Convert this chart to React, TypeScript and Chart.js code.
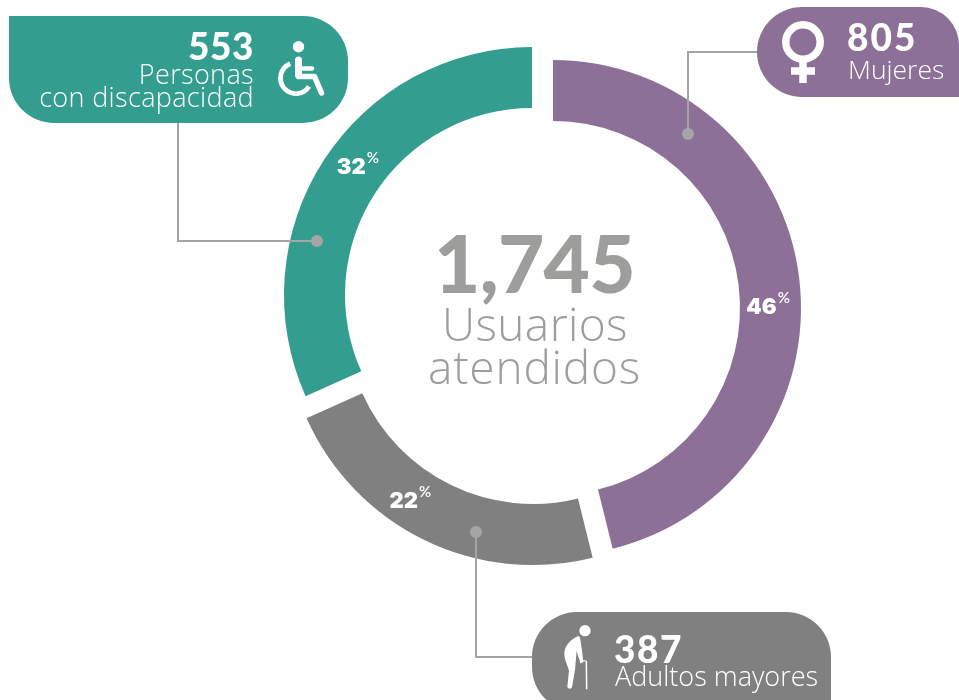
import React, { useEffect, useRef } from "react";
import { Chart, registerables } from "chart.js";

Chart.register(...registerables);

const categories = ["Mujeres", "Adultos mayores", "Personas con discapacidad"];
const values = [805, 387, 553];
const colors = ["#8c7097", "#808080", "#339d8f"];
const totalLabel = "1,745";
const arcShifts = [[12, 2], [-8, 11], [-9, -11]];
const labelAngles = [89.5, 214, 306.5];
const labelRadialNudge = [-3, 3, 0];

const FONT = "Lato, sans-serif";
const LIGHT = "'Open Sans', sans-serif";
const LINE = "#a5a5a5";

const arcPlugin = {
  id: "arcPlugin",
  afterDatasetsUpdate(chart: any) {
    chart.getDatasetMeta(0).data.forEach((el: any, i: number) => {
      el.x += arcShifts[i][0];
      el.y += arcShifts[i][1];
    });
  },
  afterDatasetsDraw(chart: any) {
    const { ctx } = chart;
    const total = values.reduce((a, b) => a + b, 0);
    chart.getDatasetMeta(0).data.forEach((el: any, i: number) => {
      const r = (el.innerRadius + el.outerRadius) / 2 + labelRadialNudge[i];
      const a = (labelAngles[i] * Math.PI) / 180;
      const cx = el.x + r * Math.sin(a);
      const cy = el.y - r * Math.cos(a);
      const txt = String(Math.round((values[i] / total) * 100));
      ctx.save();
      ctx.fillStyle = "#ffffff";
      ctx.textBaseline = "alphabetic";
      ctx.textAlign = "left";
      ctx.font = `900 22px Inter, ${FONT}`;
      const w = ctx.measureText(txt).width;
      ctx.fillText(txt, cx - w / 2 - 6, cy + 8);
      ctx.font = `600 15px Lato, sans-serif`;
      ctx.fillText("%", cx + w / 2 - 5, cy - 3);
      ctx.restore();
    });
  },
};

const T = ({ x, y, size, weight, color = "#fff", right, spacing, family = FONT, children }: any) => (
  <div
    style={{
      position: "absolute",
      top: y - size,
      height: size * 1.2,
      lineHeight: `${size * 1.2}px`,
      ...(right !== undefined ? { right: 959 - right } : { left: x }),
      fontFamily: family,
      fontSize: size,
      fontWeight: weight,
      color,
      whiteSpace: "nowrap",
      letterSpacing: spacing,
    }}
  >
    {children}
  </div>
);

const Pill = ({ x, y, w, h, radius, color }: any) => (
  <div style={{ position: "absolute", left: x, top: y, width: w, height: h, borderRadius: radius, background: color }} />
);

export default function App() {
  const ref = useRef<HTMLCanvasElement>(null);
  useEffect(() => {
    const chart = new Chart(ref.current as HTMLCanvasElement, {
      type: "doughnut",
      data: {
        labels: categories,
        datasets: [{ data: values, backgroundColor: colors, borderWidth: 0, hoverOffset: 0 }],
      },
      options: {
        responsive: false,
        animation: false,
        cutout: 187,
        layout: { padding: { left: 293, right: 170, top: 58, bottom: 146 } },
        plugins: { legend: { display: false }, tooltip: { enabled: false } },
      },
      plugins: [arcPlugin],
    } as any);
    return () => chart.destroy();
  }, []);

  return (
    <div style={{ position: "absolute", left: 0, top: 0, width: 959, height: 700, overflow: "hidden", background: "#fff" }}>
      <canvas ref={ref} width={959} height={700} style={{ position: "absolute", left: 0, top: 0, display: "block" }} />

      <Pill x={9} y={16} w={339} h={107} radius="0 45px 45px 45px" color={colors[2]} />
      <Pill x={757} y={7} w={202} h={90} radius="45px 38px 0 45px" color={colors[0]} />
      <Pill x={532} y={612} w={299} h={100} radius="45px 45px 0 45px" color={colors[1]} />

      <svg width={959} height={700} style={{ position: "absolute", left: 0, top: 0 }}>
        <g fill="none" stroke={LINE} strokeWidth={2}>
          <path d="M178 123V241H317" />
          <path d="M757 52H688V134" />
          <path d="M476 532V657H532" />
        </g>
        <g fill={LINE}>
          <circle cx={317} cy={241} r={6} />
          <circle cx={688} cy={134} r={6} />
          <circle cx={476} cy={532} r={6} />
        </g>
        {/* wheelchair */}
        <g fill="none" stroke="#fff" strokeLinejoin="round" strokeLinecap="round">
          <circle cx={298.5} cy={46.8} r={5.7} fill="#fff" stroke="none" />
          <path d="M298.5 60V75" strokeWidth={7} />
          <path d="M298.5 68.5H312" strokeWidth={4.5} />
          <path d="M298.5 76.5H314.5L321.5 93" strokeWidth={5.5} />
          <path d="M290.2 63.7A15.5 15.5 0 1 0 309 86.5" strokeWidth={4.8} strokeLinecap="butt" />
        </g>
        {/* female */}
        <g fill="none" stroke="#fff" strokeWidth={7.5}>
          <circle cx={803} cy={42} r={17.2} />
          <path d="M803 60V83M791 71H815" />
        </g>
        {/* elderly */}
        <g transform="translate(555 620) scale(0.3333)" fill="#fff">
          <circle cx={90} cy={32} r={17} />
          <path d="M68 49C52 56 30 74 28 98C27 118 38 135 42 152L37 200C38 207 49 208 51 202L60 150L65 92C68 105 73 118 77 129L85 126C83 105 80 85 76 58C75 50 72 47 68 49Z" />
          <path d="M94 124L95 208" stroke="#fff" strokeWidth={4.5} />
          <path d="M76 130C80 122 90 120 96 125" stroke="#fff" strokeWidth={3.5} fill="none" />
        </g>
      </svg>

      <T right={254} y={61} size={37} weight={900} spacing="0.5px">553</T>
      <T right={254} y={85} size={27} weight={300} family={LIGHT} spacing="0.35px">Personas</T>
      <T right={254} y={108} size={27} weight={300} family={LIGHT} spacing="0.35px">con discapacidad</T>

      <T x={847} y={52} size={37} weight={900} spacing="2px">805</T>
      <T x={848} y={80} size={26.5} weight={300} family={LIGHT}>Mujeres</T>

      <T x={614} y={664} size={37} weight={900} spacing="1.5px">387</T>
      <T x={615} y={687} size={27} weight={300} family={LIGHT}>Adultos mayores</T>

      <T x={434} y={294} size={80} weight={900} color="#9d9d9c" spacing="-0.7px">{totalLabel}</T>
      <T x={442} y={342} size={46} weight={300} color="#9d9d9c" family={LIGHT} spacing="0.4px">Usuarios</T>
      <T x={428} y={385} size={46} weight={300} color="#9d9d9c" family={LIGHT} spacing="0.8px">atendidos</T>
    </div>
  );
}
